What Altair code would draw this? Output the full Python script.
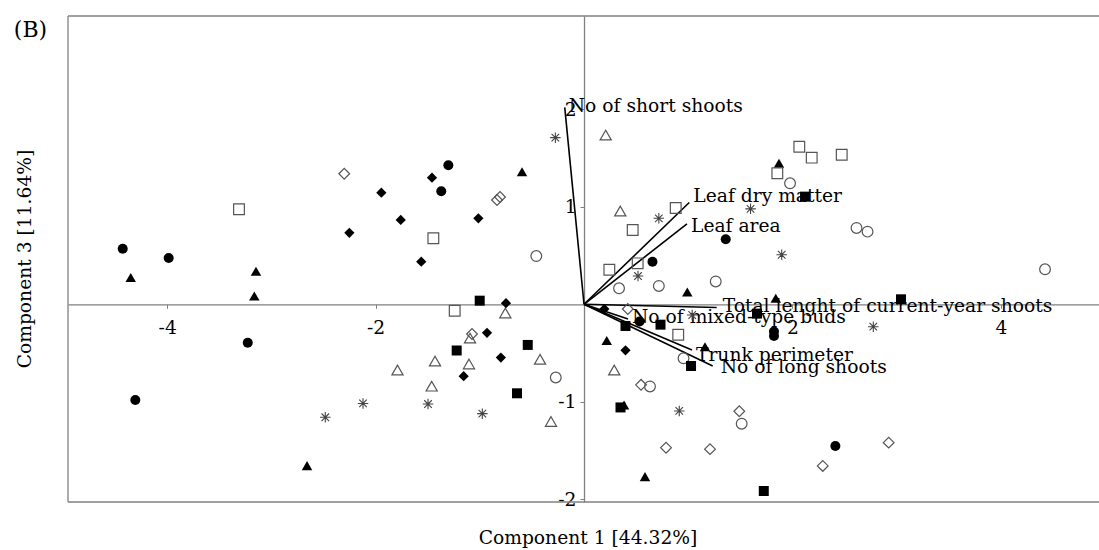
import altair as alt
import pandas as pd

# ---- PCA scores (Component 1, Component 3) per group ----
g1_x = [-1.302, -1.370, -4.427, -3.986, -3.227, -4.306, 1.360, 0.657, 0.533, 1.823, 1.823, 2.412]
g1_y = [1.426, 1.159, 0.570, 0.475, -0.394, -0.982, 0.667, 0.437, -0.176, -0.279, -0.325, -1.453]

g2_x = [-0.458, -0.271, 1.977, 2.615, 2.721, 4.424, 0.336, 0.718, 1.264, 0.955, 0.633, 1.513]
g2_y = [0.495, -0.751, 1.241, 0.783, 0.745, 0.359, 0.164, 0.188, 0.234, -0.554, -0.843, -1.225]

g3_x = [-4.350, -3.148, -3.164, -2.658, -0.595, 1.871, 0.991, 1.840, 0.218, 1.161, 0.384, 0.585]
g3_y = [0.275, 0.338, 0.085, -1.655, 1.360, 1.446, 0.126, 0.062, -0.371, -0.435, -1.033, -1.768]

g4_x = [-0.755, -1.094, -1.430, -1.104, -0.422, -1.790, -1.462, -0.317, 0.208, 0.348, 0.290]
g4_y = [-0.089, -0.346, -0.582, -0.612, -0.564, -0.674, -0.840, -1.202, 1.736, 0.957, -0.674]

g5_x = [-1.001, -1.222, -0.540, -0.643, 2.121, 3.042, 1.660, 0.398, 0.734, 1.027, 0.350, 1.725]
g5_y = [0.037, -0.474, -0.417, -0.913, 1.104, 0.051, -0.096, -0.223, -0.209, -0.633, -1.058, -1.915]

g6_x = [-3.311, -1.446, -1.241, 0.880, 0.467, 2.066, 2.185, 2.473, 1.855, 0.243, 0.515, 0.904]
g6_y = [0.974, 0.677, -0.066, 0.988, 0.762, 1.616, 1.504, 1.534, 1.344, 0.355, 0.420, -0.312]

g7_x = [-1.459, -1.945, -1.759, -1.014, -2.252, -1.562, -0.749, -0.931, -0.798, -1.155, 0.195, 0.398]
g7_y = [1.298, 1.145, 0.865, 0.882, 0.733, 0.437, 0.011, -0.292, -0.546, -0.737, -0.048, -0.472]

g8_x = [-2.301, -0.835, -0.806, -1.075, 0.420, 0.547, 0.787, 1.209, 1.490, 2.924, 2.291]
g8_y = [1.339, 1.070, 1.100, -0.305, -0.048, -0.826, -1.471, -1.486, -1.097, -1.419, -1.658]

g9_x = [-0.275, 0.718, 1.598, 1.897, 0.518, 1.038, 0.914, 2.776, -2.483, -2.121, -1.497, -0.976]
g9_y = [1.709, 0.882, 0.979, 0.508, 0.290, -0.110, -1.094, -0.230, -1.159, -1.017, -1.023, -1.122]

# ---- variable loadings ----
var_names = [
    "No of short shoots",
    "Leaf dry matter",
    "Leaf area",
    "Total lenght of current-year shoots",
    "No of mixed-type buds",
    "Trunk perimeter",
    "No of long shoots",
]
var_x = [-0.185, 1.010, 0.988, 1.273, 0.422, 1.036, 1.235]
var_y = [2.020, 1.044, 0.824, -0.033, -0.151, -0.469, -0.633]

# label offsets (px) from each loading tip
label_dx = [4, 4, 4, 6, 4, 4, 8]
label_dy = [-1, -7, 2, -2, -2, 5, 1]

# ---- layout ----
X_DOMAIN = [-4.952, 4.942]
Y_DOMAIN = [-2.028, 2.957]
W, H = 1031, 486
PAD = {"left": 68, "top": 16, "right": 0, "bottom": 48}
FONT = "DejaVu Serif"
FS = 18.7
AX = "#808080"
OPEN = "#555555"

x_zero = (0 - X_DOMAIN[0]) / (X_DOMAIN[1] - X_DOMAIN[0]) * W
y_zero = (Y_DOMAIN[1] - 0) / (Y_DOMAIN[1] - Y_DOMAIN[0]) * H

x_scale = alt.Scale(domain=X_DOMAIN, nice=False, zero=False)
y_scale = alt.Scale(domain=Y_DOMAIN, nice=False, zero=False)

x_axis = alt.Axis(
    values=[-4, -2, 2, 4], offset=y_zero - H, grid=False, title=None,
    domainColor=AX, domainWidth=1.3, tickColor=AX, tickSize=4,
    labelFont=FONT, labelFontSize=FS, labelColor="black", labelPadding=10,
    labelExpr="datum.value + ''",
)
y_axis = alt.Axis(
    values=[-2, -1, 1, 2], offset=-x_zero, grid=False, title=None,
    domainColor=AX, domainWidth=1.3, tickColor=AX, tickSize=4,
    labelFont=FONT, labelFontSize=FS, labelColor="black", labelPadding=4,
    labelExpr="datum.value + ''",
)

ASTERISK = "M-1,0L1,0M0,-1L0,1M-0.72,-0.72L0.72,0.72M-0.72,0.72L0.72,-0.72"

groups = [
    (g1_x, g1_y, dict(shape="circle", filled=True, color="black", size=100)),
    (g2_x, g2_y, dict(shape="circle", filled=False, color=OPEN, size=115, strokeWidth=1.2)),
    (g3_x, g3_y, dict(shape="triangle-up", filled=True, color="black", size=110)),
    (g4_x, g4_y, dict(shape="triangle-up", filled=False, color=OPEN, size=125, strokeWidth=1.2)),
    (g5_x, g5_y, dict(shape="square", filled=True, color="black", size=100)),
    (g6_x, g6_y, dict(shape="square", filled=False, color=OPEN, size=115, strokeWidth=1.2)),
    (g7_x, g7_y, dict(shape="diamond", filled=True, color="black", size=105)),
    (g8_x, g8_y, dict(shape="diamond", filled=False, color=OPEN, size=115, strokeWidth=1.2)),
    (g9_x, g9_y, dict(shape=ASTERISK, filled=False, color="#444444", size=110, strokeWidth=1.1)),
]

one = pd.DataFrame({"k": [0]})

# plot frame (left, top, bottom)
frame = [
    alt.Chart(one).mark_rule(color=AX, strokeWidth=1.3).encode(
        x=alt.value(0), y=alt.value(0), y2=alt.value(H)),
    alt.Chart(one).mark_rule(color=AX, strokeWidth=1.3).encode(
        x=alt.value(0), x2=alt.value(W), y=alt.value(0)),
    alt.Chart(one).mark_rule(color=AX, strokeWidth=1.3).encode(
        x=alt.value(0), x2=alt.value(W), y=alt.value(H)),
]

vec = pd.DataFrame({"name": var_names, "x": var_x, "y": var_y,
                    "ox": [0.0] * len(var_x), "oy": [0.0] * len(var_y)})

vectors = alt.Chart(vec).mark_rule(color="black", strokeWidth=1.6).encode(
    x=alt.X("ox:Q", scale=x_scale, axis=x_axis),
    y=alt.Y("oy:Q", scale=y_scale, axis=y_axis),
    x2="x:Q", y2="y:Q",
)

labels = []
for i, name in enumerate(var_names):
    labels.append(
        alt.Chart(vec.iloc[[i]]).mark_text(
            font=FONT, fontSize=FS, color="black", align="left", baseline="middle",
            dx=label_dx[i], dy=label_dy[i],
        ).encode(
            x=alt.X("x:Q", scale=x_scale, axis=x_axis),
            y=alt.Y("y:Q", scale=y_scale, axis=y_axis),
            text="name:N",
        )
    )

points = []
for gx, gy, style in groups:
    df = pd.DataFrame({"x": gx, "y": gy})
    points.append(
        alt.Chart(df).mark_point(opacity=1, **style).encode(
            x=alt.X("x:Q", scale=x_scale, axis=x_axis),
            y=alt.Y("y:Q", scale=y_scale, axis=y_axis),
        )
    )

titles = [
    alt.Chart(pd.DataFrame({"t": ["Component 1 [44.32%]"]})).mark_text(
        font=FONT, fontSize=FS, color="black", align="center", baseline="middle"
    ).encode(x=alt.value(520), y=alt.value(521.7), text="t:N"),
    alt.Chart(pd.DataFrame({"t": ["Component 3 [11.64%]"]})).mark_text(
        font=FONT, fontSize=FS, color="black", align="center", baseline="middle", angle=270
    ).encode(x=alt.value(-43), y=alt.value(243), text="t:N"),
    alt.Chart(pd.DataFrame({"t": ["(B)"]})).mark_text(
        font=FONT, fontSize=22, color="black", align="center", baseline="middle"
    ).encode(x=alt.value(-37.5), y=alt.value(14), text="t:N"),
]

chart = alt.layer(*frame, vectors, *labels, *points, *titles).properties(
    width=W, height=H, padding=PAD,
    autosize=alt.AutoSizeParams(type="none"),
).configure_view(stroke=None)

chart.save("out.html", embed_options={"renderer": "svg", "actions": False})
